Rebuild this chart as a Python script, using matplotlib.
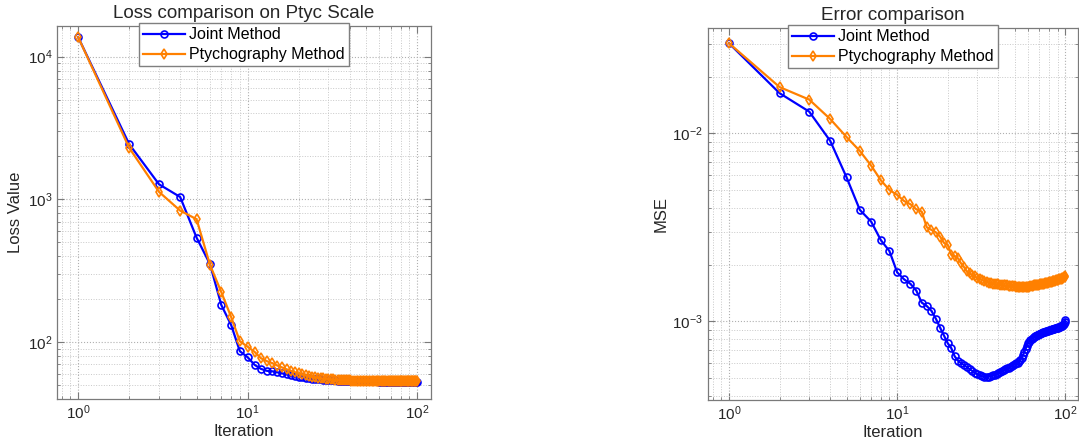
import numpy as np
import matplotlib
matplotlib.use('Agg')
import matplotlib.pyplot as plt
from matplotlib.ticker import LogLocator, NullFormatter

plt.rcParams['font.family'] = ['Liberation Sans', 'DejaVu Sans']
plt.rcParams['mathtext.fontset'] = 'custom'
plt.rcParams['mathtext.rm'] = 'Liberation Sans'
plt.rcParams['mathtext.it'] = 'Liberation Sans'

# iterations 1..100
iterations = list(range(1, 101))

# loss values, joint method
loss_joint = [
    13700, 2440, 1277, 1040, 540, 352, 182, 132, 86.5, 78.5,
    69.4, 65.0, 63.0, 62.5, 61.5, 60.5, 59.5, 58.5, 57.8, 57.2,
    56.7, 56.2, 55.8, 55.5, 55.2, 55.0, 54.8, 54.6, 54.4, 54.3,
    54.2, 54.1, 54.0, 53.9, 53.9, 53.8, 53.8, 53.7, 53.7, 53.6,
    53.6, 53.5, 53.5, 53.5, 53.4, 53.4, 53.4, 53.3, 53.3, 53.3,
    53.3, 53.2, 53.2, 53.2, 53.2, 53.1, 53.1, 53.1, 53.1, 53.0,
    53.0, 53.0, 53.0, 53.0, 52.9, 52.9, 52.9, 52.9, 52.9, 52.9,
    52.9, 52.8, 52.8, 52.8, 52.8, 52.8, 52.8, 52.8, 52.8, 52.8,
    52.8, 52.8, 52.7, 52.7, 52.7, 52.7, 52.7, 52.7, 52.7, 52.7,
    52.7, 52.7, 52.7, 52.7, 52.7, 52.7, 52.7, 52.7, 52.7, 52.7,
]

# loss values, ptychography method
loss_ptyc = [
    13700, 2300, 1130, 835, 727, 348, 224, 150, 101.6, 93.0,
    85.5, 77.2, 73.6, 71.3, 68.6, 66.5, 64.6, 63.0, 61.6, 60.4,
    59.4, 58.6, 57.9, 57.3, 56.8, 56.4, 56.0, 55.7, 55.4, 55.2,
    55.0, 54.8, 54.7, 54.5, 54.4, 54.3, 54.2, 54.1, 54.0, 54.0,
    53.9, 53.9, 53.8, 53.8, 53.8, 53.7, 53.7, 53.7, 53.6, 53.6,
    53.6, 53.6, 53.6, 53.5, 53.5, 53.5, 53.5, 53.5, 53.5, 53.5,
    53.5, 53.4, 53.4, 53.4, 53.4, 53.4, 53.4, 53.4, 53.4, 53.3,
    53.3, 53.3, 53.3, 53.3, 53.3, 53.3, 53.3, 53.3, 53.3, 53.3,
    53.3, 53.2, 53.2, 53.2, 53.2, 53.2, 53.2, 53.2, 53.2, 53.2,
    53.2, 53.2, 53.2, 53.2, 53.2, 53.2, 53.2, 53.2, 53.2, 53.2,
]

# MSE, joint method
mse_joint = [
    0.0301, 0.01633, 0.01303, 0.0091, 0.00583, 0.00391, 0.00339, 0.0027, 0.00236, 0.00182,
    0.00167, 0.00158, 0.001455, 0.001256, 0.001205, 0.001135, 0.00103, 0.000925, 0.000838, 0.000763,
    0.000718, 0.000650, 0.000617, 0.000598, 0.000585, 0.000570, 0.000555, 0.000544, 0.000532, 0.000522,
    0.000515, 0.000510, 0.000507, 0.000506, 0.000507, 0.000510, 0.000515, 0.000520, 0.000525, 0.000530,
    0.000536, 0.000542, 0.000548, 0.000555, 0.000561, 0.000567, 0.000573, 0.000579, 0.000585, 0.000590,
    0.000596, 0.000603, 0.000612, 0.000625, 0.000640, 0.000660, 0.000685, 0.000712, 0.000740, 0.000762,
    0.000780, 0.000795, 0.000808, 0.000818, 0.000826, 0.000832, 0.000838, 0.000843, 0.000848, 0.000853,
    0.000858, 0.000863, 0.000867, 0.000872, 0.000876, 0.000880, 0.000884, 0.000888, 0.000892, 0.000895,
    0.000898, 0.000901, 0.000904, 0.000907, 0.000910, 0.000913, 0.000916, 0.000919, 0.000922, 0.000925,
    0.000928, 0.000932, 0.000936, 0.000940, 0.000945, 0.000950, 0.000958, 0.000970, 0.000990, 0.00102,
]

# MSE, ptychography method
mse_ptyc = [
    0.0301, 0.0176, 0.0151, 0.0119, 0.00955, 0.00805, 0.00673, 0.00562, 0.00499, 0.0047,
    0.00436, 0.00419, 0.00394, 0.00383, 0.00316, 0.00306, 0.00297, 0.00282, 0.00261, 0.00255,
    0.00225, 0.00222, 0.00216, 0.00203, 0.00194, 0.00184, 0.00180, 0.00176, 0.00173, 0.00170,
    0.00168, 0.00166, 0.00164, 0.00162, 0.00160, 0.00159, 0.00158, 0.00158, 0.00157, 0.00157,
    0.00156, 0.00156, 0.00155, 0.00155, 0.00155, 0.00154, 0.00154, 0.00154, 0.00154, 0.00154,
    0.00153, 0.00153, 0.00153, 0.00153, 0.00153, 0.00153, 0.00153, 0.00153, 0.00153, 0.00153,
    0.00153, 0.00154, 0.00154, 0.00154, 0.00155, 0.00155, 0.00155, 0.00156, 0.00156, 0.00156,
    0.00157, 0.00157, 0.00158, 0.00158, 0.00158, 0.00159, 0.00159, 0.00160, 0.00160, 0.00161,
    0.00161, 0.00162, 0.00162, 0.00163, 0.00163, 0.00164, 0.00164, 0.00165, 0.00165, 0.00166,
    0.00166, 0.00167, 0.00167, 0.00168, 0.00168, 0.00169, 0.00170, 0.00171, 0.00172, 0.00174,
]

BLUE = '#0000ff'
ORANGE = '#ff8000'
AXCOL = '#7a7a7a'


def style_axes(ax, title, ylabel, xlim, ylim):
    ax.set_xscale('log')
    ax.set_yscale('log')
    ax.set_xlim(*xlim)
    ax.set_ylim(*ylim)
    ax.set_title(title, fontsize=13.5, color='#262626', pad=6)
    ax.set_xlabel('Iteration', fontsize=12, color='#262626', labelpad=1)
    ax.set_ylabel(ylabel, fontsize=12, color='#262626', labelpad=3)
    ax.xaxis.set_minor_locator(LogLocator(base=10, subs=np.arange(2, 10), numticks=20))
    ax.yaxis.set_minor_locator(LogLocator(base=10, subs=np.arange(2, 10), numticks=20))
    ax.xaxis.set_minor_formatter(NullFormatter())
    ax.yaxis.set_minor_formatter(NullFormatter())
    ax.tick_params(which='both', direction='in', top=True, right=True, colors=AXCOL,
                   labelcolor='#262626', labelsize=11)
    ax.tick_params(which='major', length=5)
    ax.tick_params(which='minor', length=2.5)
    for s in ax.spines.values():
        s.set_color(AXCOL)
        s.set_linewidth(0.9)
    ax.grid(True, which='major', ls=':', color='#b0b0b0', lw=0.8)
    ax.grid(True, which='minor', ls=':', color='#c8c8c8', lw=0.7)
    ax.set_axisbelow(True)


fig = plt.figure(figsize=(10.79, 4.47), dpi=100)
ax1 = fig.add_axes([57 / 1079, 48 / 447, 374 / 1079, 373 / 447])
ax2 = fig.add_axes([708 / 1079, 47 / 447, 370 / 1079, 372 / 447])

ax1.plot(iterations, loss_joint, '-o', color=BLUE, lw=1.6, ms=5, mfc='none', mew=1.2,
         label='Joint Method')
ax1.plot(iterations, loss_ptyc, '-d', color=ORANGE, lw=1.6, ms=5.5, mfc='none', mew=1.2,
         label='Ptychography Method')
style_axes(ax1, 'Loss comparison on Ptyc Scale', 'Loss Value', (0.75, 121), (40, 16400))

ax2.plot(iterations, mse_joint, '-o', color=BLUE, lw=1.6, ms=5, mfc='none', mew=1.2,
         label='Joint Method')
ax2.plot(iterations, mse_ptyc, '-d', color=ORANGE, lw=1.6, ms=5.5, mfc='none', mew=1.2,
         label='Ptychography Method')
style_axes(ax2, 'Error comparison', 'MSE', (0.75, 119), (3.81e-4, 0.0363))

for ax in (ax1, ax2):
    leg = ax.legend(loc='upper center', bbox_to_anchor=(0.5, 1.007), fontsize=11.5,
                    frameon=True, fancybox=False, handlelength=2.6, handletextpad=0.3,
                    borderpad=0.25, labelspacing=0.3, borderaxespad=0)
    leg.get_frame().set_edgecolor('#7f7f7f')
    leg.get_frame().set_linewidth(1.0)
    leg.get_frame().set_alpha(1.0)

fig.savefig('out.png', dpi=100)
